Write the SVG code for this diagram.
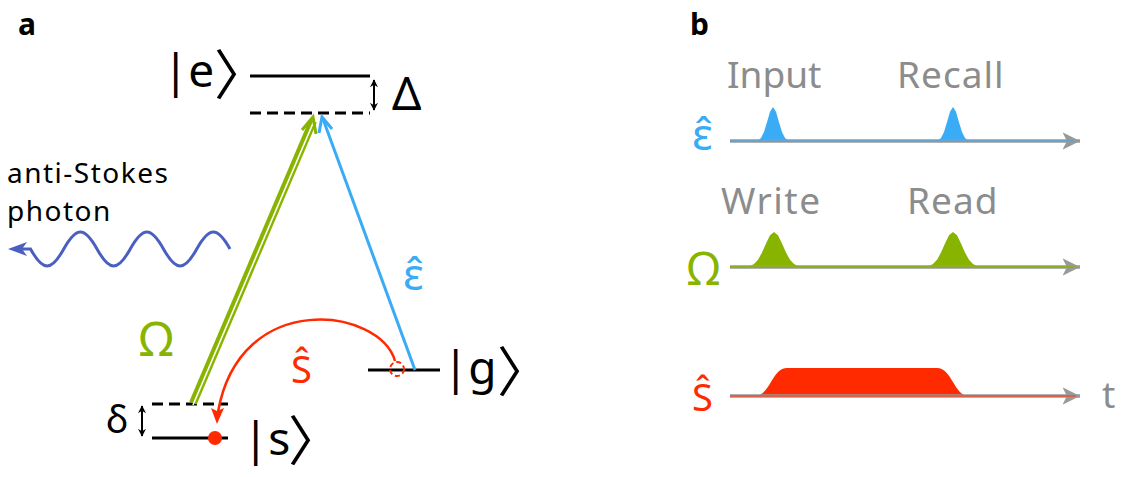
<svg xmlns="http://www.w3.org/2000/svg" width="1121" height="477" viewBox="0 0 1121 477">
<style>
.lvl{stroke:#000;stroke-width:3;fill:none}
.dash{stroke:#000;stroke-width:3;stroke-dasharray:11 6;fill:none}
.t{font-family:'Noto Sans','DejaVu Sans',sans-serif}
.k{fill:#000}
.gr{fill:#8c8c8c}
.br{font-family:'Noto Sans CJK JP','Noto Sans CJK SC',sans-serif;font-size:54px;fill:#000}
.pl{font-family:'Noto Sans','DejaVu Sans',sans-serif;font-weight:bold;font-size:30px;fill:#000}
.axis{stroke:#999;stroke-width:3.5;fill:none}
</style>
<defs>
<marker id="dk" viewBox="0 0 10 10" refX="9" refY="5" markerWidth="4" markerHeight="4" orient="auto-start-reverse" markerUnits="strokeWidth">
<path d="M0,0 L10,5 L0,10 L3,5 Z" fill="#000"/>
</marker>
<marker id="gh" viewBox="0 0 10 10" refX="10" refY="5" markerWidth="5" markerHeight="5" orient="auto">
<path d="M0,0 L10,5 L0,10 L2.5,5 Z" fill="#999"/>
</marker>
</defs>
<rect width="1121" height="477" fill="#fff"/>

<text class="pl" x="18" y="35">a</text>
<text class="pl" x="690" y="35">b</text>

<g id="level-e">
<line class="lvl" x1="250" y1="76" x2="370" y2="76"/>
<line class="dash" x1="250" y1="113" x2="370" y2="113"/>
<text class="t k" x="163" y="87" font-size="46">|e</text>
<text class="br" x="214" y="95">〉</text>
</g>
<g id="delta">
<line x1="374" y1="80" x2="374" y2="110" stroke="#000" stroke-width="2" marker-start="url(#dk)" marker-end="url(#dk)"/>
<text class="t k" x="392" y="110" font-size="46">Δ</text>
</g>
<g id="level-g">
<line class="lvl" x1="368" y1="370" x2="440" y2="370"/>
<text class="t k" x="443" y="384" font-size="46">|g</text>
<text class="br" x="497" y="392">〉</text>
</g>
<g id="level-s">
<line class="dash" x1="152" y1="404" x2="228" y2="404"/>
<line class="lvl" x1="152" y1="438" x2="228" y2="438"/>
<circle cx="215" cy="438" r="7" fill="#ff2a00"/>
<text class="t k" x="243" y="455" font-size="46">|s</text>
<text class="br" x="288" y="461">〉</text>
</g>
<g id="delta-small">
<line x1="142" y1="406" x2="142" y2="436" stroke="#000" stroke-width="2" marker-start="url(#dk)" marker-end="url(#dk)"/>
<text class="t k" x="106" y="433" font-size="38">δ</text>
</g>
<g id="photon">
<text class="t k" font-size="28" letter-spacing="1.5"><tspan x="7" y="183">anti-Stokes</tspan><tspan x="7" y="221">photon</tspan></text>
<path d="M230,249 c-12.6,-22.7 -20.6,-22.7 -33.25,0 c-12.6,22.7 -20.6,22.7 -33.25,0 c-12.6,-22.7 -20.6,-22.7 -33.25,0 c-12.6,22.7 -20.6,22.7 -33.25,0 c-12.6,-22.7 -20.6,-22.7 -33.25,0 c-12.6,22.7 -20.6,22.7 -33.25,0 L20,249" fill="none" stroke="#4a5fbf" stroke-width="3"/>
<path d="M8,249 L27,242 L22,249 L27,256 Z" fill="#4a5fbf"/>
</g>

<g id="connectors">
<g id="omega-arrow">
<line x1="193" y1="403" x2="313" y2="121" stroke="#88b400" stroke-width="8"/>
<line x1="193" y1="405" x2="313.5" y2="122" stroke="#fff" stroke-width="1.6"/>
<polyline points="302,130 313,117 316,134" fill="none" stroke="#88b400" stroke-width="3"/>
</g>
<g id="probe-arrow">
<line x1="415" y1="370" x2="323" y2="119" stroke="#3aabf5" stroke-width="3"/>
<polyline points="319,133 322,117 332,129" fill="none" stroke="#3aabf5" stroke-width="3"/>
</g>
<g id="spin-arrow">
<circle cx="397" cy="369" r="7" fill="none" stroke="#ff2a00" stroke-width="2" stroke-dasharray="5 3"/>
<path d="M395,361 C380,308 240,288 218,412" fill="none" stroke="#ff2a00" stroke-width="2.5"/>
<path d="M217,424 L211,408 L217,411 L224,408 Z" fill="#ff2a00"/>
</g>
</g>
<text class="t" x="139" y="356" font-size="48" fill="#88b400">Ω</text>
<text class="t" x="403" y="290" font-size="44" fill="#3aabf5">ε̂</text>
<text class="t" x="291" y="383" font-size="38" fill="#ff2a00">Ŝ</text>

<g id="timeline-probe">
<text class="t gr" x="727" y="88" font-size="37">Input</text>
<text class="t gr" x="897" y="88" font-size="37" letter-spacing="1">Recall</text>
<path d="M755,141 L758,140.2 761,137.9 764,132.1 767,122.3 770,111.7 773,107 776,111.7 779,122.3 782,132.1 785,137.9 788,140.2 791,141 Z" fill="#3aabf5"/>
<path d="M935,141 L938,140.2 941,137.9 944,132.1 947,122.3 950,111.7 953,107 956,111.7 959,122.3 962,132.1 965,137.9 968,140.2 971,141 Z" fill="#3aabf5"/>
<line class="axis" x1="730" y1="141" x2="1080" y2="141" marker-end="url(#gh)"/>
<line x1="730" y1="141" x2="1076" y2="141" stroke="#5aa6dc" stroke-width="1.5"/>
<text class="t" x="692" y="150" font-size="44" fill="#3aabf5">ε̂</text>
</g>
<g id="timeline-control">
<text class="t gr" x="721" y="214" font-size="37" letter-spacing="1.5">Write</text>
<text class="t gr" x="907" y="214" font-size="37" letter-spacing="1">Read</text>
<path d="M746,267 L750,266 754,264 758,259.8 762,252.6 766,243.4 770,235.3 774,232 778,235.3 782,243.4 786,252.6 790,259.8 794,264 798,266 802,267 Z" fill="#88b400"/>
<path d="M925,267 L929,266 933,264 937,259.8 941,252.6 945,243.4 949,235.3 953,232 957,235.3 961,243.4 965,252.6 969,259.8 973,264 977,266 981,267 Z" fill="#88b400"/>
<line class="axis" x1="730" y1="267" x2="1080" y2="267" marker-end="url(#gh)"/>
<line x1="730" y1="267" x2="1076" y2="267" stroke="#88b400" stroke-width="1.5"/>
<text class="t" x="687" y="285" font-size="46" fill="#88b400">Ω</text>
</g>
<g id="timeline-spin">
<path d="M755,396 C770,396 772,368 787,368 L937,368 C952,368 954,396 969,396 Z" fill="#ff2a00"/>
<line class="axis" x1="730" y1="396" x2="1080" y2="396" marker-end="url(#gh)"/>
<line x1="730" y1="396" x2="1076" y2="396" stroke="#f05030" stroke-width="1.5"/>
<text class="t" x="692" y="411" font-size="38" fill="#ff2a00">Ŝ</text>
<text class="t gr" x="1102" y="408" font-size="37">t</text>
</g>
</svg>
